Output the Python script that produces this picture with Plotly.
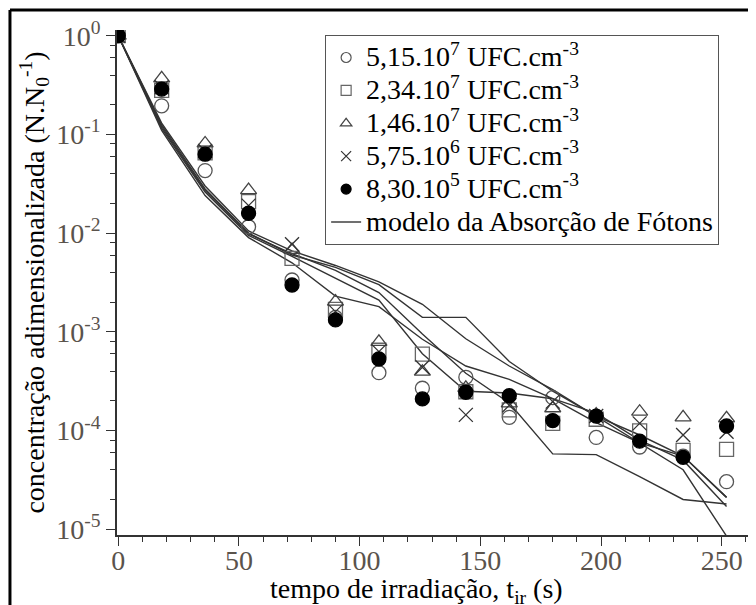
import plotly.graph_objects as go

t = [0, 18, 36, 54, 72, 90, 108, 126, 144, 162, 180, 198, 216, 234, 252]

s_515e7 = [1.0, 0.195, 0.043, 0.0116, 0.00335, 0.0014, 0.000385, 0.000268, 0.000346, 0.000136, 0.000215, 0.000085, 0.000068, 0.000055, 0.0000303]
s_234e7 = [1.0, 0.28, 0.065, 0.0208, 0.00555, 0.00169, 0.00065, 0.000595, 0.000247, 0.000162, 0.000118, 0.00013, 0.000099, 0.000063, 0.0000645]
s_146e7 = [1.0, 0.37, 0.081, 0.0273, 0.00675, 0.00202, 0.00079, 0.000394, 0.00027, 0.000188, 0.000168, 0.000145, 0.000155, 0.000136, 0.000133]
s_575e6 = [1.0, 0.30, 0.068, 0.019, 0.0077, 0.0016, 0.00063, 0.000437, 0.000144, 0.00018, 0.000196, 0.00014, 0.000118, 0.00009, 0.000097]
s_830e5 = [1.0, 0.288, 0.063, 0.0159, 0.00298, 0.00132, 0.00053, 0.000209, 0.000244, 0.000225, 0.000126, 0.00014, 0.000078, 0.0000535, 0.000111]

model_1 = [1.0, 0.13, 0.030, 0.0105, 0.0066, 0.0047, 0.0032, 0.0019, 0.00085, 0.00045, 0.00026, 0.00014, 0.000075, 0.00004, 0.0000085]
model_2 = [1.0, 0.125, 0.028, 0.010, 0.006, 0.0045, 0.003, 0.0014, 0.0014, 0.0005, 0.00025, 0.00014, 0.00009, 0.000055, 0.000021]
model_3 = [1.0, 0.12, 0.027, 0.0098, 0.0062, 0.0042, 0.0025, 0.00095, 0.00038, 0.00019, 0.000058, 0.000057, 0.000034, 0.00002, 0.000018]
model_4 = [1.0, 0.115, 0.026, 0.0095, 0.0058, 0.0035, 0.0021, 0.0006, 0.00025, 0.00024, 0.00021, 0.00015, 0.00008, 0.00005, 0.000017]
model_5 = [1.0, 0.11, 0.024, 0.009, 0.005, 0.0023, 0.0018, 0.00084, 0.00045, 0.00033, 0.00021, 0.00012, 0.000075, 0.000055, 0.000021]

series_names = [
    "5,15.10<sup>7</sup> UFC.cm<sup>-3</sup>",
    "2,34.10<sup>7</sup> UFC.cm<sup>-3</sup>",
    "1,46.10<sup>7</sup> UFC.cm<sup>-3</sup>",
    "5,75.10<sup>6</sup> UFC.cm<sup>-3</sup>",
    "8,30.10<sup>5</sup> UFC.cm<sup>-3</sup>",
]
model_name = "modelo da Absorção de Fótons"

y_tickvals = [1e-5, 1e-4, 1e-3, 1e-2, 1e-1, 1]
y_ticktext = ["10<sup>-5</sup>", "10<sup>-4</sup>", "10<sup>-3</sup>", "10<sup>-2</sup>", "10<sup>-1</sup>", "10<sup>0</sup>"]

series = [s_515e7, s_234e7, s_146e7, s_575e6, s_830e5]
symbols = ["circle-open", "square-open", "triangle-up-open", "x-thin-open", "circle"]
colors = ["#555555", "#666666", "#444444", "#333333", "#000000"]

FONT = "Liberation Serif"


def big(txt):
    return '<span style="font-size:28px">' + txt + "</span>"


fig = go.Figure()

for m in [model_1, model_2, model_3, model_4, model_5]:
    fig.add_trace(go.Scatter(x=t, y=m, mode="lines", line=dict(color="#333333", width=1.4),
                             showlegend=False, hoverinfo="skip"))

for s, sym, c in zip(series, symbols, colors):
    fig.add_trace(go.Scatter(x=t, y=s, mode="markers", showlegend=False,
                             marker=dict(symbol=sym, size=14, color=c, line=dict(color=c, width=1.3))))

for name, sym, c in zip(series_names, symbols, colors):
    fig.add_trace(go.Scatter(x=[None], y=[None], mode="markers", name=big(name),
                             marker=dict(symbol=sym, size=10, color=c, line=dict(color=c, width=1.2))))
fig.add_trace(go.Scatter(x=[None], y=[None], mode="lines", name=big(model_name),
                         line=dict(color="#333333", width=1.4)))

minor_y = [k * 10.0 ** e for e in range(-5, 0) for k in (2, 4, 6, 8)]

# page body adds an 8px offset: figure is 748x597 so it fits the 756x605 window
fig.update_layout(
    width=748, height=597,
    margin=dict(l=109, r=0, t=22, b=70),
    paper_bgcolor="white", plot_bgcolor="white",
    font=dict(family=FONT, size=28, color="black"),
    legend=dict(x=0.3257, y=0.99, xanchor="left", yanchor="top",
                bordercolor="#555555", borderwidth=1, bgcolor="white",
                font=dict(family=FONT, size=23, color="black"),
                itemwidth=30),
    xaxis=dict(range=[-0.5, 264.2], tickmode="array", tickvals=[0, 50, 100, 150, 200, 250],
               ticks="outside", ticklen=9, tickcolor="#333333", tickwidth=1.3, ticklabelstandoff=-9,
               showline=True, linecolor="#333333", linewidth=1.5, showgrid=False, zeroline=False,
               tickfont=dict(family=FONT, size=28, color="#5a534c"),
               minor=dict(dtick=10, tick0=0, ticks="outside", ticklen=5, tickcolor="#333333", tickwidth=1.2)),
    yaxis=dict(type="log", range=[-5.059, 0.058], tickmode="array", tickvals=y_tickvals, ticktext=y_ticktext,
               ticks="outside", ticklen=9, tickcolor="#333333", tickwidth=1.3,
               showline=True, linecolor="#333333", linewidth=1.5, showgrid=False, zeroline=False,
               automargin=False,
               tickfont=dict(family=FONT, size=28, color="#5a534c"),
               minor=dict(tickmode="array", tickvals=minor_y, ticks="outside", ticklen=5,
                          tickcolor="#333333", tickwidth=1.2),
               title=dict(text="concentração adimensionalizada (N.N<sub>0</sub><sup>-1</sup>)", standoff=4,
                          font=dict(family=FONT, size=28, color="black"))),
    annotations=[
        dict(text="tempo de irradiação, t<sub>ir</sub> (s)", xref="paper", yref="paper",
             x=0.468, y=-0.109, xanchor="center", yanchor="middle", showarrow=False,
             font=dict(family=FONT, size=28, color="black")),
    ],
    shapes=[
        dict(type="line", xref="paper", yref="paper", x0=-0.1675, x1=1.01, y0=1.0396, y1=1.0396,
             line=dict(color="black", width=3)),
        dict(type="line", xref="paper", yref="paper", x0=-0.1675, x1=-0.1675, y0=-0.15, y1=1.0396,
             line=dict(color="black", width=3)),
    ],
)

fig.write_html("out.html")
